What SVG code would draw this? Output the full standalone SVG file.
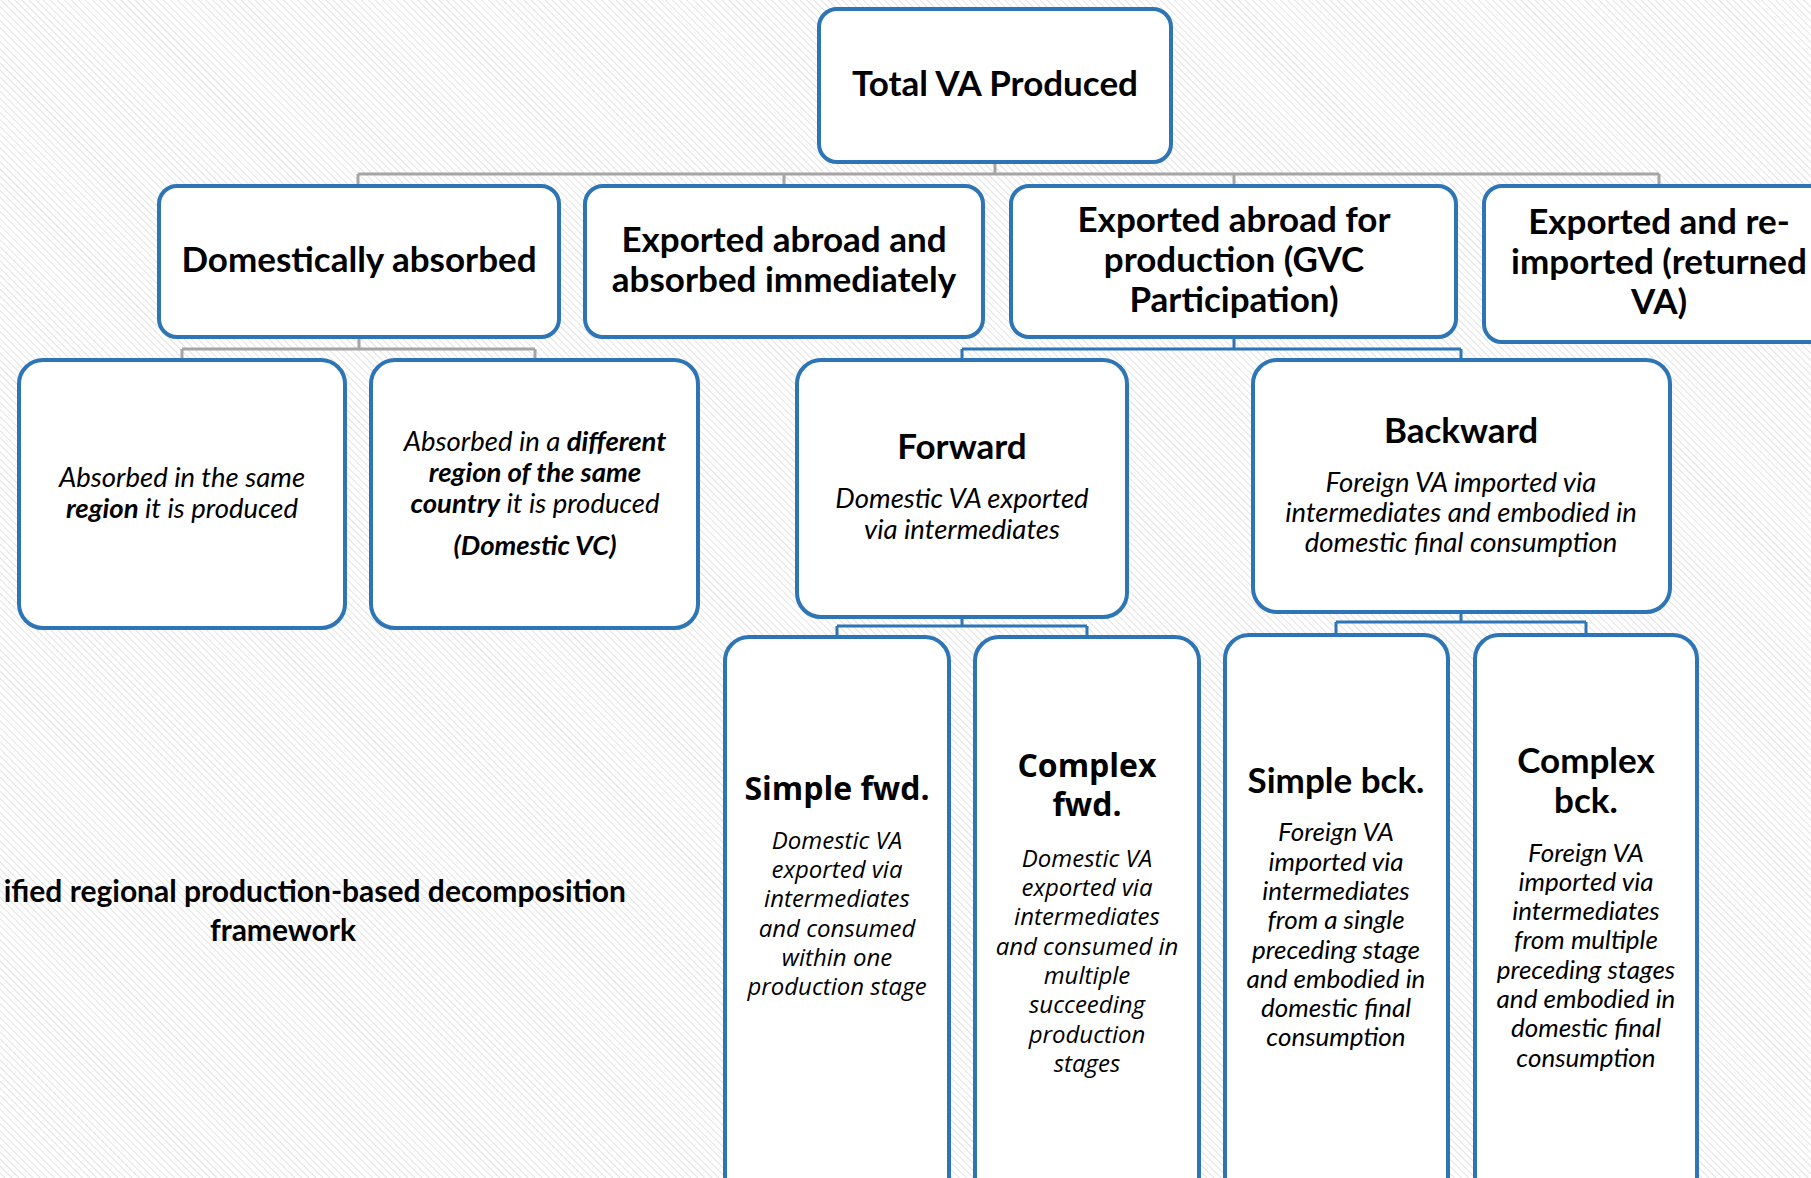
<svg xmlns="http://www.w3.org/2000/svg" width="1811" height="1178" viewBox="0 0 1811 1178">
<defs>
<pattern id="hatch" width="5" height="5" patternUnits="userSpaceOnUse" patternTransform="rotate(-45)">
<rect width="5" height="5" fill="#ffffff"/>
<line x1="0" y1="0" x2="0" y2="5" stroke="#dcdcdc" stroke-width="1.6"/>
</pattern>
</defs>
<style>
.box{fill:#ffffff;stroke:#2E75B6;stroke-width:4}
.gc{fill:none;stroke:#A5A5A5;stroke-width:3}
.bc{fill:none;stroke:#2E75B6;stroke-width:3}
.h{font-family:Lato,"Liberation Sans",sans-serif;font-weight:bold;font-size:35px;fill:#000;text-anchor:middle}
.it{font-family:Lato,"Liberation Sans",sans-serif;font-style:italic;font-size:27.5px;fill:#000;text-anchor:middle}
.itb{font-size:26px}
.oh{font-family:"Open Sans","Liberation Sans",sans-serif;font-weight:bold;font-size:32px;fill:#000;text-anchor:middle}
.oi{font-family:"Open Sans","Liberation Sans",sans-serif;font-style:italic;font-size:24px;fill:#000;text-anchor:middle}
.b{font-weight:bold}
.ttl{font-family:Lato,"Liberation Sans",sans-serif;font-weight:bold;font-size:30px;fill:#000}
</style>
<rect width="1811" height="1178" fill="url(#hatch)"/>

<g id="connectors">
<path class="gc" d="M995,162 V174 M358,174 H1659 M358,174 V186 M784,174 V186 M1234,174 V186 M1659,174 V186"/>
<path class="gc" d="M359,337 V349 M182,349 H535 M182,349 V360 M535,349 V360"/>
<path class="bc" d="M1234,337 V349 M962,349 H1461 M962,349 V360 M1461,349 V360"/>
<path class="bc" d="M962,617 V626 M837,626 H1087 M837,626 V637 M1087,626 V637"/>
<path class="bc" d="M1461,612 V622 M1336,622 H1586 M1336,622 V635 M1586,622 V635"/>
</g>

<g id="total">
<rect class="box" x="819" y="9" width="352" height="153" rx="18"/>
<text class="h" x="995" y="96">Total VA Produced</text>
</g>

<g id="domestic">
<rect class="box" x="159" y="186" width="400" height="151" rx="18"/>
<text class="h" x="359" y="272">Domestically absorbed</text>
</g>

<g id="exported-immediately">
<rect class="box" x="585" y="186" width="398" height="151" rx="18"/>
<text class="h" x="784" y="252">Exported abroad and</text>
<text class="h" x="784" y="292">absorbed immediately</text>
</g>

<g id="gvc">
<rect class="box" x="1011" y="186" width="445" height="151" rx="18"/>
<text class="h" x="1234" y="232">Exported abroad for</text>
<text class="h" x="1234" y="272">production (GVC</text>
<text class="h" x="1234" y="312">Participation)</text>
</g>

<g id="returned">
<rect class="box" x="1484" y="186" width="350" height="156" rx="18"/>
<text class="h" x="1659" y="234">Exported and re-</text>
<text class="h" x="1659" y="274">imported (returned</text>
<text class="h" x="1659" y="314">VA)</text>
</g>

<g id="same-region">
<rect class="box" x="19" y="360" width="326" height="268" rx="24"/>
<text class="it" x="182" y="487">Absorbed in the same</text>
<text class="it" x="182" y="518"><tspan class="b">region</tspan> it is produced</text>
</g>

<g id="different-region">
<rect class="box" x="371" y="360" width="327" height="268" rx="24"/>
<text class="it" x="535" y="451">Absorbed in a <tspan class="b">different</tspan></text>
<text class="it b" x="535" y="482">region of the same</text>
<text class="it" x="535" y="513"><tspan class="b">country</tspan> it is produced</text>
<text class="it b" x="535" y="555">(Domestic VC)</text>
</g>

<g id="forward">
<rect class="box" x="797" y="360" width="330" height="257" rx="24"/>
<text class="h" x="962" y="459">Forward</text>
<text class="it" x="962" y="508">Domestic VA exported</text>
<text class="it" x="962" y="539">via intermediates</text>
</g>

<g id="backward">
<rect class="box" x="1253" y="360" width="417" height="252" rx="24"/>
<text class="h" x="1461" y="443">Backward</text>
<text class="it" x="1461" y="492">Foreign VA imported via</text>
<text class="it" x="1461" y="522">intermediates and embodied in</text>
<text class="it" x="1461" y="552">domestic final consumption</text>
</g>

<g id="simple-fwd">
<rect class="box" x="725" y="637" width="224" height="600" rx="24"/>
<text class="oh" x="837" y="800">Simple fwd.</text>
<text class="oi" x="837" y="849">Domestic VA</text>
<text class="oi" x="837" y="878">exported via</text>
<text class="oi" x="837" y="907">intermediates</text>
<text class="oi" x="837" y="937">and consumed</text>
<text class="oi" x="837" y="966">within one</text>
<text class="oi" x="837" y="995">production stage</text>
</g>

<g id="complex-fwd">
<rect class="box" x="975" y="637" width="224" height="600" rx="24"/>
<text class="oh" x="1087" y="777">Complex</text>
<text class="oh" x="1087" y="816">fwd.</text>
<text class="oi" x="1087" y="867">Domestic VA</text>
<text class="oi" x="1087" y="896">exported via</text>
<text class="oi" x="1087" y="925">intermediates</text>
<text class="oi" x="1087" y="955">and consumed in</text>
<text class="oi" x="1087" y="984">multiple</text>
<text class="oi" x="1087" y="1013">succeeding</text>
<text class="oi" x="1087" y="1043">production</text>
<text class="oi" x="1087" y="1072">stages</text>
</g>

<g id="simple-bck">
<rect class="box" x="1225" y="635" width="223" height="600" rx="24"/>
<text class="h" x="1336" y="793">Simple bck.</text>
<text class="it itb" x="1336" y="841">Foreign VA</text>
<text class="it itb" x="1336" y="871">imported via</text>
<text class="it itb" x="1336" y="900">intermediates</text>
<text class="it itb" x="1336" y="929">from a single</text>
<text class="it itb" x="1336" y="959">preceding stage</text>
<text class="it itb" x="1336" y="988">and embodied in</text>
<text class="it itb" x="1336" y="1017">domestic final</text>
<text class="it itb" x="1336" y="1046">consumption</text>
</g>

<g id="complex-bck">
<rect class="box" x="1475" y="635" width="222" height="600" rx="24"/>
<text class="h" x="1586" y="773">Complex</text>
<text class="h" x="1586" y="813">bck.</text>
<text class="it itb" x="1586" y="862">Foreign VA</text>
<text class="it itb" x="1586" y="891">imported via</text>
<text class="it itb" x="1586" y="920">intermediates</text>
<text class="it itb" x="1586" y="949">from multiple</text>
<text class="it itb" x="1586" y="979">preceding stages</text>
<text class="it itb" x="1586" y="1008">and embodied in</text>
<text class="it itb" x="1586" y="1037">domestic final</text>
<text class="it itb" x="1586" y="1067">consumption</text>
</g>

<g id="caption">
<text class="ttl" x="626" y="902" text-anchor="end">ified regional production-based decomposition</text>
<text class="ttl" x="283" y="941" text-anchor="middle">framework</text>
</g>
</svg>
